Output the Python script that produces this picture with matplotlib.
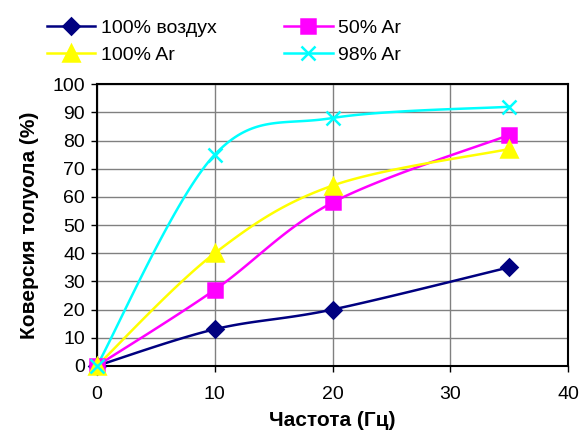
import numpy as np
import matplotlib
matplotlib.use('Agg')
import matplotlib.pyplot as plt

plt.rcParams['font.family'] = ['Liberation Sans', 'DejaVu Sans']

#data
freq = [0, 10, 20, 35]
air100 = [0, 13, 20, 35]
ar50 = [0, 27, 58, 82]
ar100 = [0, 40, 64, 77]
ar98 = [0, 75, 88, 92]

labels = ['100% воздух', '50% Ar', '100% Ar', '98% Ar']
colors = ['#000080', '#FF00FF', '#FFFF00', '#00FFFF']
markers = ['D', 's', '^', 'x']
msizes = [8, 10, 11, 10]


def smooth(xs, ys, n=40):
    #excel-like bezier smoothing between the points
    p = np.column_stack([xs, ys]).astype(float)
    pts = np.vstack([p[0], p, p[-1]])
    out = []
    for i in range(1, len(pts) - 2):
        p0, p1, p2, p3 = pts[i - 1], pts[i], pts[i + 1], pts[i + 2]
        c1 = p1 + (p2 - p0) / 6
        c2 = p2 - (p3 - p1) / 6
        t = np.linspace(0, 1, n)[:, None]
        seg = (1 - t)**3 * p1 + 3 * (1 - t)**2 * t * c1 + 3 * (1 - t) * t**2 * c2 + t**3 * p2
        out.append(seg)
    out = np.vstack(out)
    return out[:, 0], out[:, 1]


fig = plt.figure(figsize=(5.84, 4.34), dpi=100)
ax = fig.add_axes([0.166, 0.157, 0.807, 0.649])

series = [air100, ar50, ar100, ar98]
handles = []
for ys, c, m, ms, lab in zip(series, colors, markers, msizes, labels):
    sx, sy = smooth(freq, ys)
    ax.plot(sx, sy, color=c, lw=1.8, zorder=3)
    ax.plot(freq, ys, ls='none', marker=m, color=c, ms=ms, mew=1.8, zorder=4, clip_on=False)
    h, = ax.plot([], [], color=c, lw=1.8, marker=m, ms=ms, mew=1.8, label=lab)
    handles.append(h)

ax.set_xlim(0, 40)
ax.set_ylim(0, 100)
ax.set_xticks(range(0, 41, 10))
ax.set_yticks(range(0, 101, 10))
ax.grid(True, color='#808080', lw=1)
ax.set_axisbelow(True)
for s in ax.spines.values():
    s.set_linewidth(1.5)
    s.set_color('black')
ax.tick_params(labelsize=14, length=4.5, width=1, direction='out')
ax.tick_params(axis='x', pad=10)
ax.tick_params(axis='y', pad=4)
ax.set_xlabel('Частота (Гц)', fontsize=15, fontweight='bold', labelpad=6)
ax.set_ylabel('Коверсия толуола (%)', fontsize=15, fontweight='bold', labelpad=10)

order = [handles[0], handles[2], handles[1], handles[3]]
fig.legend(order, [h.get_label() for h in order], ncol=2, frameon=False,
           loc='upper left', bbox_to_anchor=(0.05, 0.995), fontsize=14,
           handlelength=2.5, columnspacing=3.45, labelspacing=0.45, handletextpad=0.3,
           borderpad=0.4)

fig.savefig('out.png', dpi=100)
